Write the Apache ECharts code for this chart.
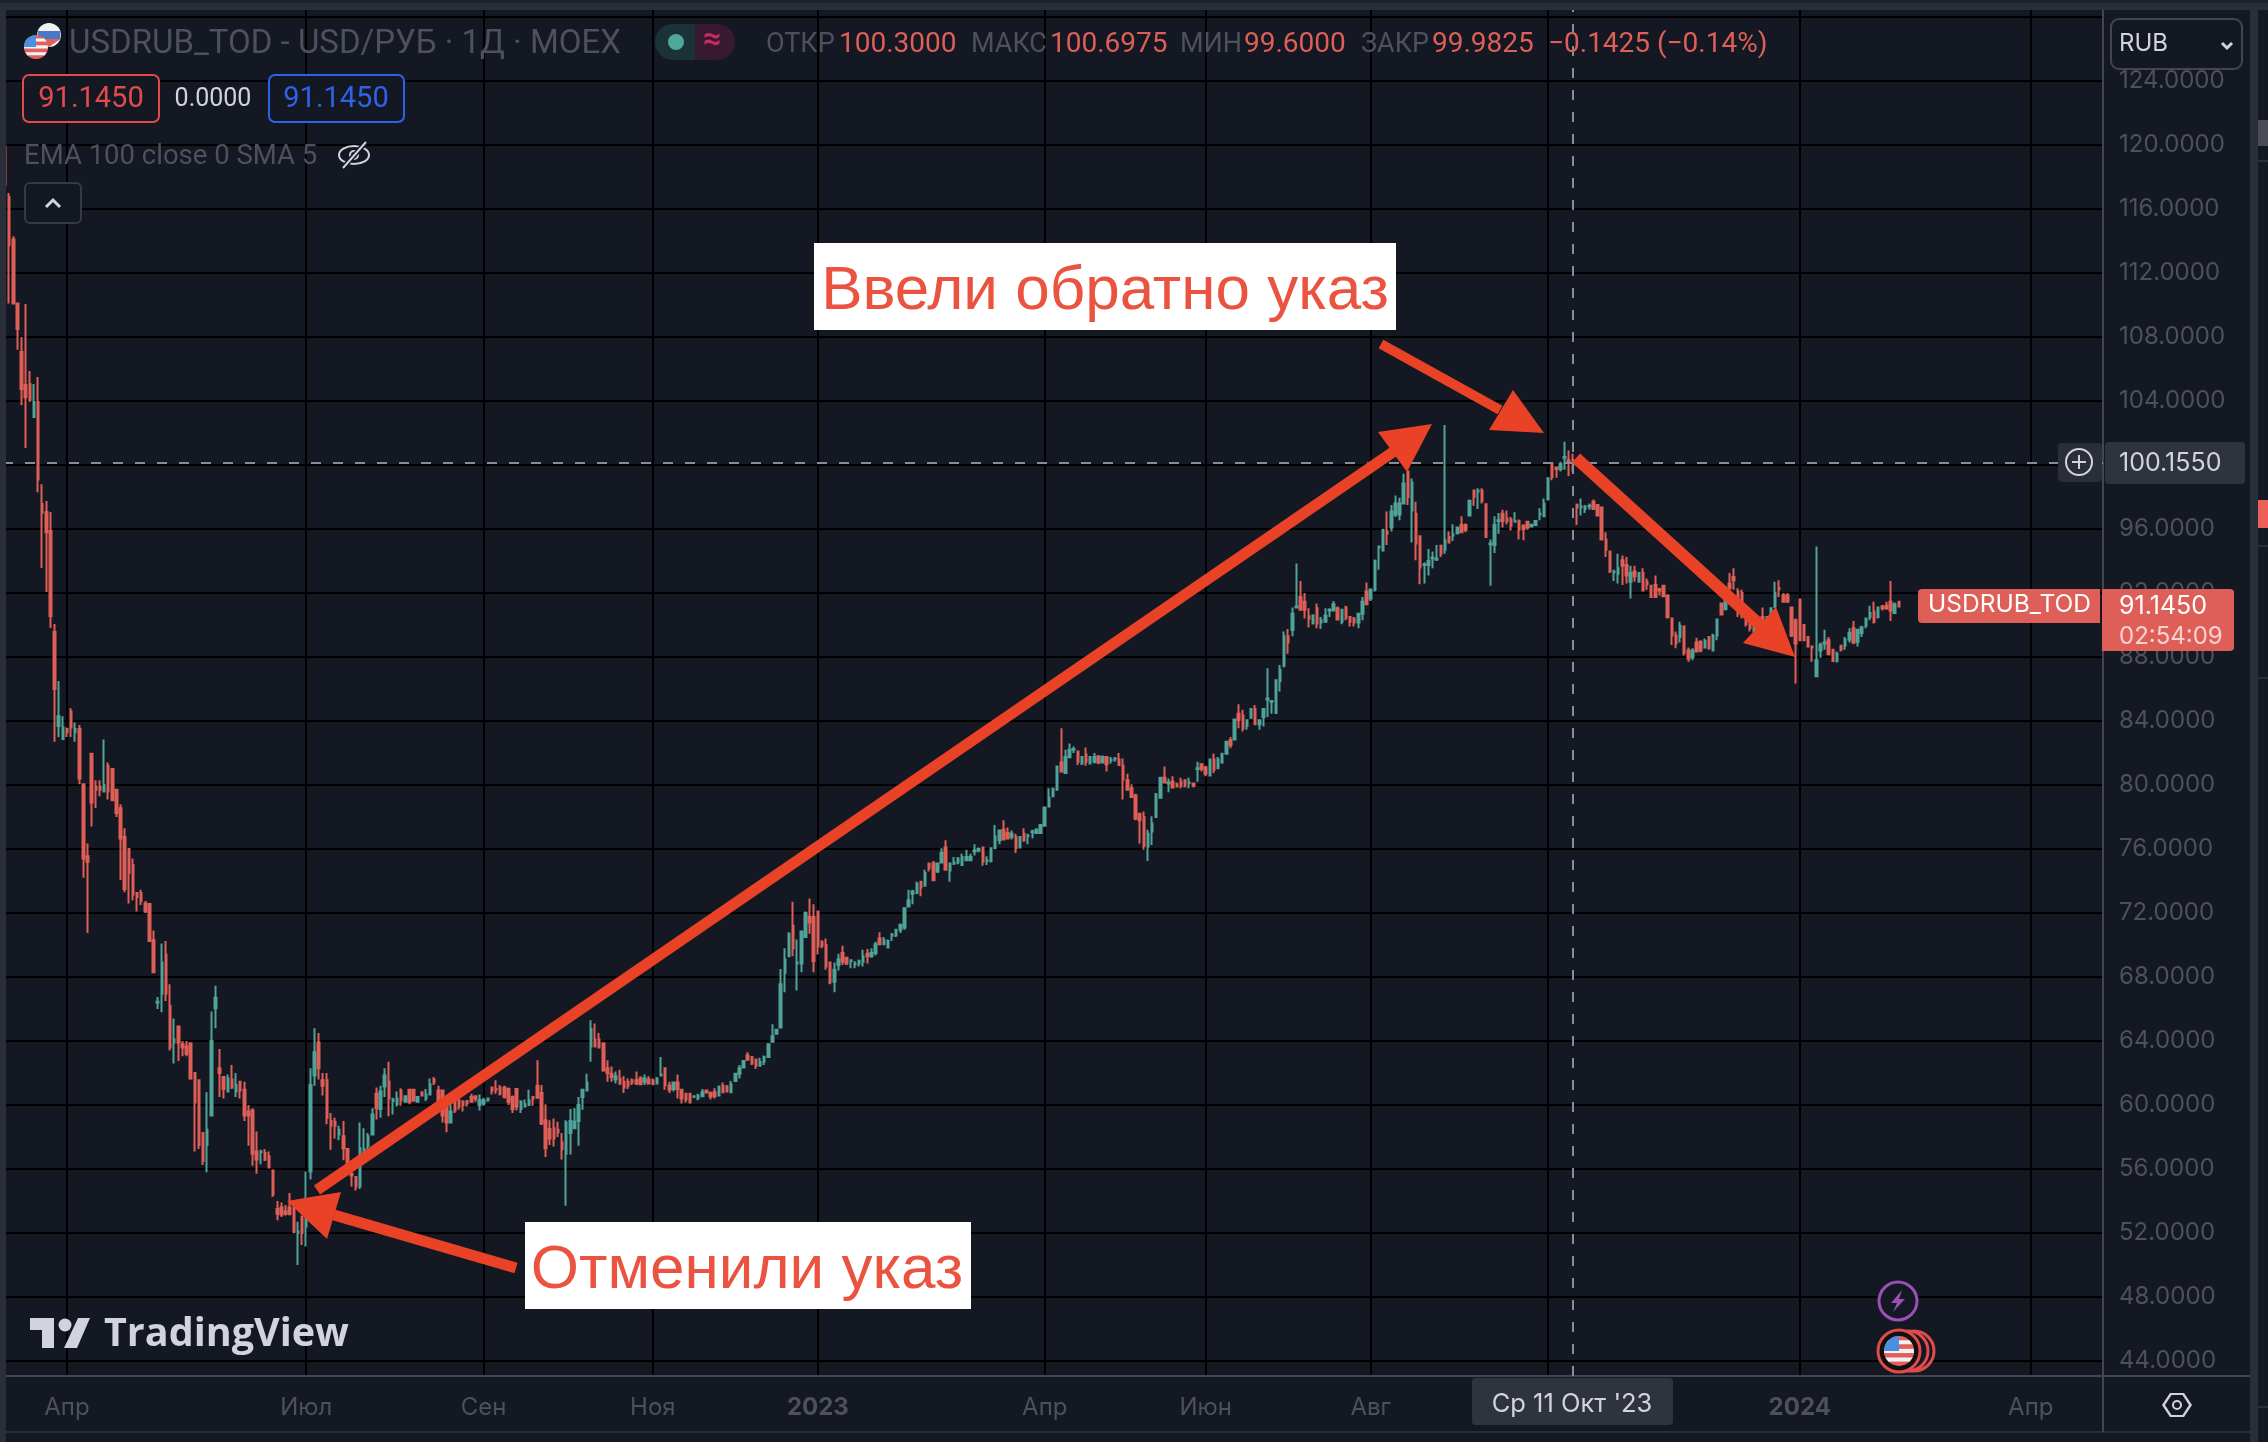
<!DOCTYPE html>
<html>
<head>
<meta charset="utf-8">
<title>USDRUB_TOD</title>
<style>
html, body { margin: 0; padding: 0; background: #141823; }
#main { width: 2268px; height: 1442px; }
</style>
<script src="https://cdn.jsdelivr.net/npm/echarts@6/dist/echarts.min.js"></script>
</head>
<body>
<div id="main"></div>
<script>
const opens = [
119.9,116.75,114.1,110.1,107.06,105,105.06,103,103.94,97.56,
97.06,95.87,89.56,83.68,82.87,83.5,84.6,83.3,83.5,80.05,
75.55,81.96,79.9,79.9,79.6,81.2,81,79.7,78.55,76.75,
76,75,73.25,73.25,72.6,72.56,70.3,66.4,66.95,69.4,
66.2,63.9,64.9,63.8,63.65,63.85,62,61.55,58.25,57.5,
59.35,66.05,62.3,61.75,60.85,61.6,60.85,61.45,60.95,59.6,
59.65,57.1,57.05,57,56.8,55.9,53.5,53.6,53.35,53.6,
53.7,52,53,52.4,55.85,61.85,63.9,61.55,61.55,59,
58.95,58.15,58.05,57.25,55.7,55.5,54.9,57,57.45,58.15,
60.7,59.75,61.15,61.45,60.25,60.05,60.9,60.2,60.95,60.95,
60.2,60.8,60.4,60.65,61.6,60.9,60.9,59.85,58.9,60.2,
60.3,60.2,60.25,60.5,60.55,60,60.1,60.3,61.1,61,
61.1,61.1,61,60.5,61,59.75,59.9,60,60.5,61.2,
60.75,59.05,58.5,58.55,58.45,57.65,56.95,58.25,58.55,59,
60.5,60.9,63.65,64.1,64.1,63.85,62.3,61.95,61.6,61.65,
61.45,61.45,61.55,61.55,61.65,61.45,61.6,61.55,61.35,61.85,
62.3,61.2,61,61.4,60.95,60.7,60.7,60.5,60.4,60.55,
60.9,60.75,60.8,60.6,61.2,61.15,60.8,61.5,61.95,62.35,
63.1,63,62.85,62.45,62.7,63,63.95,64.45,64.85,68.27,
69.3,71.2,68.85,68.85,70.5,71.75,71.75,72.1,70.2,70,
68.9,67.7,68.75,69.5,69.2,69,68.8,68.85,68.95,69.45,
69.3,69.5,70.4,70.05,69.85,70.6,70.6,70.95,71.1,72.4,
73.2,73.25,73.95,73.7,75.1,75.1,74.6,75.15,76.1,74.65,
75.1,75.15,75,75.3,75.3,75.85,75.9,76.1,75.25,75.25,
76.05,76.55,77.2,77,76.75,76.75,76.1,76.95,76.8,77.05,
77,77,77.45,78.65,79.3,79.7,81.4,80.75,81.75,82.2,
82.1,81.35,81.9,81.35,81.45,81.8,81.4,81.75,81.55,81.6,
81.6,81.2,80.3,79.8,79.35,78.2,78,76.15,77.1,78,
79.2,80.45,80.1,80.2,80.05,80.2,80.3,80.1,80.1,81,
81.3,81.1,80.6,81.6,81.05,81.4,81.95,82.8,82.85,84.45,
84.35,83.7,84.2,84.75,83.8,84.25,85.35,85.2,84.5,86.5,
87.45,89.3,89.7,91.1,91.75,91.45,90.55,90.1,91.05,90.15,
90.2,90.9,90.9,91.05,90.2,91.1,90.5,90.4,90.15,90.7,
92.1,91.65,92.2,94.85,94.65,95.85,96.1,96.9,96.9,97.6,
99.6,97.15,96.95,95.55,93.75,93.75,94.15,94.1,94.95,94.7,
95.5,95.6,95.75,96.25,96.25,96.85,98.4,98.35,98.4,97.55,
95.05,95,96.5,96.95,96.65,96.6,96.45,96.5,96.2,96.45,
96.15,96.25,96.9,96.8,97.85,100.1,99.85,99.75,100.45,100.3,
100.3,97.5,97.35,97.25,97.4,97.7,97.5,97.35,95.35,94.6,
93.3,93.2,94.05,93.75,92.7,93.35,92.7,93.25,92.7,92.45,
92.5,92.25,92.45,91.85,90.4,89.35,89.25,89.9,88.4,88,
88.9,88.95,88.6,89.25,88.4,89.35,91.35,91,92.6,93,
92.1,92,90.5,90.1,89.6,90.1,90.5,90.1,90.4,91.15,
92.3,91.85,91.85,91.1,90.3,91.6,90,89.25,88.65,86.8,
88.4,88.85,89.05,88.45,87.75,88.7,88.7,89.1,89.8,88.95,
89.5,89.95,90.5,90.85,90.5,91.15,91.2,91.45,90.75,91.45
];
const closes = [
117.5,113.75,110.1,108.5,104.75,104.25,104.06,103.94,99.1,97,
95.8,90.56,86,84.3,83.6,83.3,83.6,83.5,80.4,75.4,
75.2,78.9,79.7,79.7,80,79.6,79.05,78.25,76.65,73.5,
74.5,73.15,73,72.75,72.1,70.25,68.3,66.45,68.9,66.95,
63.6,64.1,63.9,63.6,63.2,61.65,60.15,57.5,56.5,58.45,
64,66.7,62,61,61.65,61.1,61.25,60.9,59.35,59.35,
56.95,56.6,57.1,56.6,56.1,54.4,53.2,53.15,53.2,53.2,
52.05,52.1,52,53.15,61.25,63.3,62.3,61.2,59.2,58.7,
58.7,58.45,57.3,56.35,55.6,54.9,57.3,57.25,58.05,59.4,
59.8,60.85,61.85,60.4,60.35,60.4,60.3,60.55,60.2,60.3,
60.5,60.6,60.65,61.3,61.4,60.1,59.35,58.9,59.6,59.65,
59.9,60,60.1,60.2,60.4,60.3,60.3,60.4,60.9,60.95,
60.7,60.5,60.2,59.75,59.9,60.2,60.05,60.3,60.4,60.45,
58.85,57.3,57.9,57.9,58.3,57.25,58.9,59,58.95,60,
60.95,61.4,64.75,63.65,63.6,62.15,62,61.75,61.8,61.35,
61.1,61.2,61.4,61.35,61.3,61.65,61.35,61.3,61.65,61.9,
61.25,60.95,61.4,61,60.4,60.35,60.15,60.55,60.6,60.8,
60.8,60.55,60.55,61.15,60.8,60.85,61.3,61.95,62.3,62.75,
62.85,62.6,62.45,62.7,63,63.8,64.3,64.7,67.55,69.1,
70.7,69.8,68.9,70.85,72,71.4,69,69.9,69.95,68.65,
67.65,68.45,69.1,68.95,68.85,69.05,68.85,69,69.3,69.3,
69.5,70.05,70.05,70.3,70.25,70.65,70.95,71.25,72.3,72.8,
73.35,73.85,73.6,74.5,74.8,74.05,75.1,75.75,74.7,75.1,
75.15,75.4,75.5,75.5,75.5,75.9,76,75.2,75.3,76.05,
76.8,77.15,76.6,76.65,76.95,76.05,76.75,76.55,76.85,77.1,
77.2,77.5,78.6,79.2,79.75,81.15,80.85,81.75,82.2,82.25,
81.45,81.75,81.45,81.75,81.75,81.4,81.75,81.3,81.6,81.65,
81.25,80.35,79.7,79.25,77.9,77.8,76.2,76.95,77.6,79.4,
80.45,80.15,80.15,79.85,79.9,79.95,79.95,80.15,79.95,81.05,
81,80.7,81.6,80.95,81.6,81.95,82.7,82.5,84.1,84.05,
83.55,84.05,84.75,83.8,84.05,84.75,85.4,85.25,86.55,87.2,
89.3,88.9,90.7,91.15,90.95,90.95,90.4,90.6,90.1,90.3,
90.6,90.95,91.3,90.35,90.95,90.45,90.2,90.15,90.7,91.45,
91.3,92.2,94,94.9,95.95,95.7,97.1,97.6,97.6,98.85,
98,98.9,95.1,93.6,93.8,94,94.2,94.15,94.45,95.3,
95.15,95.65,96.1,95.8,95.95,97.75,98,98.4,97.75,95.5,
95.1,96.25,96.55,96.5,96.5,96.2,96.5,95.95,96,96.1,
96.25,96.5,96.95,97.6,99.15,99.25,99.75,100.05,100.5,100.2,
99.98,97.35,97.4,97.4,97.45,97.25,96.85,95.35,94.7,93.35,
93.35,93.55,93.7,93.1,93.25,93.05,93.25,92.15,92.55,91.75,
91.75,92.15,91.8,90.5,89.35,88.85,89.95,88.25,87.9,88.4,
88.35,88.4,89,88.55,89.35,90.35,90.65,91.6,92.3,92.8,
91.35,91.15,90.05,89.8,89.9,89.8,90,90.5,91.05,92,
92.25,91.45,91.45,89.35,88.85,89.05,89.05,88.65,88.6,87.8,
88.75,88.9,88.2,87.75,88.2,88.45,89.1,89.5,88.9,89.7,
89.85,90.4,90.75,90.2,91.1,91.05,91.05,90.9,91.3,91.15
];
const lows = [
117.4,110.1,110.1,107.2,103.75,101.06,103.94,103,98.3,93.56,
92.06,89.81,82.7,83,82.87,83,83,82.7,80.05,74.2,
70.75,77.4,78.56,79.3,79.6,79.1,79,78,74.07,73.3,
72.6,72.8,72.1,72.5,72,70.2,68.3,66,65.8,66.5,
63.4,62.6,62.75,63.05,63.05,61.65,57.1,57.25,56.25,55.8,
59.35,64.8,60.5,60.4,60.85,61,60.5,60.4,59,57.45,
56.2,55.7,56.3,56.5,56.1,54.25,52.8,53,53.1,53.1,
52.05,50,51.25,51.15,55.35,61.2,61.6,60.6,58.8,57.2,
57.9,57.8,56.55,55.75,54.9,54.65,54.75,56.85,57.2,58.1,
59.1,59.2,60.5,59.3,59.4,59.9,59.95,60.15,60.05,60.2,
60.15,60.55,60.25,60.6,61.25,60,58.9,58.3,58.9,59.5,
59.7,59.6,59.9,60.2,60.2,59.65,59.95,60.2,60.65,60.7,
60.6,60.4,60,59.5,59.65,59.5,59.85,59.95,59.95,60.4,
58.75,56.75,57.5,57.4,58,56.6,53.7,56.9,58.55,57.45,
59.7,60.9,62.7,63.6,63.55,62.15,61.45,61.45,61.35,61.25,
60.75,61,61.25,61.25,61.25,61.25,61.3,61.25,61.3,61.85,
60.95,60.75,60.85,60.4,60.1,60.15,60.1,60.45,60.3,60.5,
60.7,60.35,60.4,60.55,60.8,60.8,60.8,61.45,61.65,62.35,
62.75,62.5,62.25,62.4,62.5,63,63.9,64.4,64.85,67.05,
69.25,69.3,67.15,68.3,70.5,70.7,68.3,69.4,69.8,68.45,
67.55,67.05,68.4,68.75,68.75,68.55,68.55,68.65,68.65,68.85,
69.2,69.35,70,70,69.85,70.25,70.5,70.75,70.95,72.4,
72.55,73.2,73.05,73.7,74.6,74,74.5,75.1,74.65,73.95,
75,75.05,75,75.25,75.3,75.6,75.8,74.95,75,75.15,
76,76.3,76.55,76.6,76.6,75.75,76.05,76.45,76.3,76.65,
77,77,77.45,78.65,79.3,79.7,80.85,80.7,81.65,82,
81.25,81.25,81.2,81.3,81.35,81.3,81.35,80.85,81.35,81.45,
81.2,79.1,79.65,79.25,77.8,76.35,75.95,75.25,76.25,78,
79.2,80.15,79.55,79.8,79.85,79.8,79.85,79.8,79.85,80.2,
80.85,80.55,80.55,80.75,81,81.4,81.9,82.3,82.8,83.55,
83.35,83.45,84.2,83.8,83.45,83.65,84.25,84.45,84.5,85.85,
87.35,88.2,89.3,91.05,90.95,90.4,89.85,90.1,89.8,89.75,
90.2,90.5,90.9,90.3,90.05,90.3,89.9,89.9,89.8,90.3,
91.3,91.5,92.1,93.45,94.65,95,95.85,96.75,96.55,97.55,
97.5,95.15,94.05,92.55,92.6,93.1,93.55,94,94.25,94.45,
95.1,95.25,95.65,95.75,95.8,96.85,97.45,97.25,97.6,95.5,
92.45,94.5,95.7,96.1,96.3,95.9,96.4,95.35,95.3,95.95,
96.1,96.25,96.55,96.8,97.85,99.05,99.2,99.6,99.7,99.3,
99.6,96.25,96.85,97,97.2,97.2,96.8,95.3,94.25,93.25,
92.75,92.6,92.5,92.6,91.65,92.7,92.7,92.15,92.2,91.75,
91.75,91.85,91.75,90.4,88.75,88.55,88.9,88.1,87.7,87.8,
88.3,88.3,88.55,88.45,88.35,89.05,90.6,90.9,92.2,92.2,
90.5,90.4,89.9,89.6,89.5,89.5,89.7,89.8,90.3,91.05,
91.75,91.4,91.4,89.25,86.35,89,89,88.65,87.7,86.75,
87.95,88.45,88.1,87.75,87.65,88.35,88.45,88.9,88.8,88.65,
89.25,89.8,90.3,90.1,90.4,90.9,90.95,90.25,90.75,91.1
];
const highs = [
119.9,117,114.3,110.1,108,110.06,105.87,105.06,105.5,98.8,
97.75,97.06,90.06,86.5,84.3,83.6,84.8,83.9,83.75,80.05,
76.35,81.96,80.3,80.3,82.85,81.4,81.05,79.75,78.8,77.3,
76,75.4,73.3,73.45,72.75,72.56,70.9,66.75,70.1,70.25,
67.55,65.4,64.9,64,64,63.85,62,61.55,58.25,60.8,
65.85,67.45,63.5,61.75,61.9,62.5,62,61.5,61.45,60,
59.8,58.35,57.2,57.25,57.1,55.9,54,53.9,53.75,54.5,
53.9,52.7,53.1,55.85,62.3,64.8,64.5,62,62,59.5,
59.2,58.7,59,57.25,55.8,55.5,58.9,58.55,58.25,59.8,
61.1,61.2,62.3,62.7,60.45,60.85,61.05,60.6,61,61,
60.55,60.8,61,61.65,61.75,61.2,60.9,60,60.1,60.3,
60.45,60.3,60.3,60.7,60.55,60.65,60.45,60.45,61.15,61.55,
61.25,61.2,61.1,60.6,61,60.3,60.35,60.95,60.5,62.8,
61.25,60.05,59.05,59.15,58.95,58.25,59.05,59.75,59.8,60.5,
61,61.95,65.3,65.1,64.5,63.85,62.8,62.4,62.1,62.2,
61.8,61.65,61.65,62.1,61.8,61.9,61.8,61.65,61.75,63,
62.3,61.45,61.45,61.9,60.95,60.7,60.7,60.6,60.7,61,
60.95,60.85,61.05,61.2,61.4,61.25,61.5,62,62.5,62.8,
63.3,63,62.85,62.95,63.1,63.85,65.05,64.75,68.5,69.8,
70.8,72.7,70.35,70.85,72.1,72.9,72.55,72.1,70.3,70.4,
68.9,68.9,69.45,69.95,69.25,69.05,69,69.1,69.7,69.75,
69.8,70.2,70.8,70.5,70.35,70.75,71,71.35,72.3,73.45,
73.45,73.95,73.95,74.7,75.1,75.25,75.15,76.05,76.55,75.1,
75.5,75.5,75.7,75.95,75.7,76.3,76.1,76.1,75.55,76.1,
77.5,77.2,77.8,77.35,77.15,76.95,76.8,77.3,76.95,77.2,
77.3,77.55,78.65,79.8,79.85,81.2,83.55,82.2,82.6,82.4,
82.1,81.8,82.35,81.8,82,81.85,81.85,81.8,81.75,81.75,
82,81.65,80.7,80.05,79.45,78.25,78.35,77.2,78.05,79.5,
80.45,81.15,80.4,80.55,80.15,80.45,80.35,80.45,80.15,81.45,
81.3,81.2,81.6,81.95,81.75,81.95,82.75,83,84.15,85.05,
84.7,84.05,84.75,85,84.1,84.8,87.3,85.25,86.55,87.5,
89.6,89.75,91.1,93.85,92.75,92,91.05,90.6,91.35,90.5,
91.05,91.05,91.5,91.15,91,91.2,90.5,90.5,90.7,91.75,
92.65,92.3,94.1,94.95,95.95,97.1,97.5,98.1,97.95,99.45,
99.65,99.15,97.7,95.55,93.9,94.75,94.6,95,95,102.5,
95.85,96.3,96.15,96.8,96.35,97.85,98.45,98.55,98.55,97.55,
95.35,96.8,97,97.2,97.15,96.75,97.05,96.6,96.3,96.5,
96.35,96.55,97.3,97.9,99.25,100.15,99.9,100.2,101.45,100.9,
100.7,97.6,97.9,97.5,97.6,97.85,97.55,97.35,95.8,94.6,
93.45,94.45,94.35,94.25,93.7,93.7,93.3,93.55,92.9,92.5,
93.1,92.3,92.5,91.85,90.45,89.6,90.2,89.9,88.6,88.55,
89.2,89.05,89.15,89.3,89.45,90.35,91.35,91.65,93.25,93.55,
92.3,92.2,90.5,90.2,89.95,90.3,91.1,90.5,91.05,92.7,
92.8,92,92,91.1,90.4,91.6,90.05,89.25,88.65,94.9,
88.9,89.7,89.25,88.5,88.35,88.75,89.25,89.8,90.25,89.7,
89.95,90.45,91.2,91.45,91.1,91.25,91.45,92.75,91.4,91.5
];
const tickBars = [15, 73, 116, 157, 197, 252, 291, 331, 374, 435, 491];
const tickLabels = ['Апр', 'Июл', 'Сен', 'Ноя', '2023', 'Апр', 'Июн', 'Авг', 'Окт', '2024', 'Апр'];
const priceTicks = [44, 48, 52, 56, 60, 64, 68, 72, 76, 80, 84, 88, 92, 96, 100, 104, 108, 112, 116, 120, 124, 128];
const barCount = 509;
const crossBar = 380;
const crossPrice = 100.155;

const upColor = '#4fa398', downColor = '#de5f57';
const bgColor = '#141823', pageColor = '#2a2e39', lineColor = '#434651';
const mutedText = '#4e515c', lightText = '#d1d4dc', arrowColor = '#ea4226', noteColor = '#ea5340';

const categories = [];
for (let i = 0; i < barCount; i++) {
    const pos = tickBars.indexOf(i);
    categories.push(pos >= 0 ? tickLabels[pos] : '');
}
const candles = opens.map((o, i) => [o, closes[i], lows[i], highs[i]]);

function box(x, y, w, h, fill, stroke, r, lw, z) {
    return { type: 'rect', silent: true, z: z || 100, shape: { x: x, y: y, width: w, height: h, r: r || 0 },
        style: { fill: fill || 'none', stroke: stroke || 'none', lineWidth: lw || 0 } };
}
function label(text, x, y, color, font, align, z) {
    return { type: 'text', silent: true, z: z || 110,
        style: { text: text, x: x, y: y, fill: color, font: font, textAlign: align || 'left', textVerticalAlign: 'middle' } };
}
function segment(x1, y1, x2, y2, color, lw, z) {
    return { type: 'line', silent: true, z: z || 105, shape: { x1: x1, y1: y1, x2: x2, y2: y2 }, style: { stroke: color, lineWidth: lw } };
}
function poly(points, color, z) {
    return { type: 'polygon', silent: true, z: z || 105, shape: { points: points }, style: { fill: color } };
}
function ring(cx, cy, r, fill, stroke, lw, z) {
    return { type: 'circle', silent: true, z: z || 105, shape: { cx: cx, cy: cy, r: r }, style: { fill: fill || 'none', stroke: stroke || 'none', lineWidth: lw || 0 } };
}
// round flags are built from chords so that no clipping is needed
function stripes(cx, cy, r, colors, z) {
    const out = [ring(cx, cy, r, colors[0], null, 0, z)];
    const h = 2 * r / colors.length;
    colors.forEach((c, k) => {
        const top = -r + k * h, bot = top + h;
        const wt = Math.sqrt(Math.max(0, r * r - top * top)), wb = Math.sqrt(Math.max(0, r * r - bot * bot));
        out.push(poly([[cx - wt, cy + top], [cx + wt, cy + top], [cx + wb, cy + bot], [cx - wb, cy + bot]], c, z));
    });
    return out;
}
function usFlag(cx, cy, r, z) {
    const red = '#e2605b', white = '#f2f2f2';
    const out = stripes(cx, cy, r, [red, white, red, white, red, white, red], z);
    out.push({ type: 'sector', silent: true, z: z, shape: { cx: cx, cy: cy, r: r, r0: 0, startAngle: Math.PI, endAngle: Math.PI * 1.5 }, style: { fill: '#4a90e2' } });
    return out;
}

const elements = [
    // page frame around the chart panel
    box(0, 0, 2268, 3, '#1e222d'),
    box(0, 3, 2268, 7, pageColor),
    box(0, 3, 6, 1439, pageColor),
    box(2250, 3, 8, 1439, pageColor),
    box(2258, 10, 10, 1432, bgColor),
    box(2258, 120, 10, 26, '#4a4d57', null, 0, 0, 101),
    box(2258, 160, 10, 2, pageColor, null, 0, 0, 101),
    box(2258, 500, 10, 28, '#ec5f58', null, 0, 0, 101),
    box(2258, 545, 10, 2, pageColor, null, 0, 0, 101),
    box(2258, 677, 10, 2, pageColor, null, 0, 0, 101),
    box(2258, 1406, 10, 2, pageColor, null, 0, 0, 101),
    box(6, 1433, 2244, 9, bgColor),
    segment(6, 1432, 2250, 1432, pageColor, 2),
    segment(2102, 1376, 2250, 1376, lineColor, 2),
    segment(2103, 1376, 2103, 1432, lineColor, 2),

    // legend rows
    ...stripes(49, 35, 12, ['#f2f2f2', '#4a78c8', '#e2605b'], 106),
    ...usFlag(36, 47, 12, 107),
    label('USDRUB_TOD - USD/РУБ · 1Д · MOEX', 69, 45, mutedText, '33px Roboto'),
    box(655, 24, 40, 36, '#1b3236', null, [18, 0, 0, 18], 0, 101),
    box(695, 24, 40, 36, '#371a30', null, [0, 18, 18, 0], 0, 101),
    ring(676, 42, 8, '#4fa898', null, 0, 106),
    label('≈', 712, 41, '#c92a5f', 'bold 32px Roboto', 'center'),
    label('ОТКР', 766, 45, mutedText, '27px Roboto'),
    label('100.3000', 839, 45, downColor, '28px Roboto'),
    label('МАКС', 971, 45, mutedText, '27px Roboto'),
    label('100.6975', 1050, 45, downColor, '28px Roboto'),
    label('МИН', 1180, 45, mutedText, '27px Roboto'),
    label('99.6000', 1244, 45, downColor, '28px Roboto'),
    label('ЗАКР', 1361, 45, mutedText, '27px Roboto'),
    label('99.9825', 1432, 45, downColor, '28px Roboto'),
    label('−0.1425 (−0.14%)', 1548, 45, downColor, '28px Roboto'),
    box(23, 75, 136, 47, bgColor, '#e04b4b', 6, 2, 102),
    label('91.1450', 91, 100, '#e04b4b', '29px Roboto', 'center'),
    label('0.0000', 213, 100, lightText, '25px Roboto', 'center'),
    box(269, 75, 135, 47, bgColor, '#2e62e8', 6, 2, 102),
    label('91.1450', 336, 100, '#2e62e8', '29px Roboto', 'center'),
    label('EMA 100 close 0 SMA 5', 24, 157, mutedText, '27.5px Roboto'),
    { type: 'ellipse', silent: true, z: 106, shape: { cx: 354, cy: 155, rx: 15, ry: 9 }, style: { fill: 'none', stroke: lightText, lineWidth: 2 } },
    ring(354, 155, 4, 'none', lightText, 2, 106),
    segment(343, 168, 366, 142, bgColor, 5, 107),
    segment(343, 168, 366, 142, lightText, 2, 108),
    box(25, 183, 56, 40, bgColor, '#363a45', 5, 2, 102),
    { type: 'polyline', silent: true, z: 106, shape: { points: [[46, 207], [53, 200], [60, 207]] }, style: { fill: 'none', stroke: lightText, lineWidth: 3 } },

    // currency box at the top of the price scale
    box(2105, 10, 145, 60, bgColor),
    box(2111, 19, 131, 50, bgColor, lineColor, 8, 2, 102),
    label('RUB', 2119, 44, lightText, '24px Inter'),
    { type: 'polyline', silent: true, z: 106, shape: { points: [[2222, 43], [2227, 48], [2232, 43]] }, style: { fill: 'none', stroke: lightText, lineWidth: 3 } },

    // crosshair labels
    box(2058, 443, 44, 39, pageColor, null, 4, 0, 102),
    ring(2079, 462, 13, 'none', lightText, 2, 106),
    segment(2072, 462, 2086, 462, lightText, 2, 107),
    segment(2079, 455, 2079, 469, lightText, 2, 107),
    box(2105, 442, 140, 42, '#2f333e', null, 4, 0, 102),
    label('100.1550', 2119, 463, lightText, '25px Inter'),
    box(1472, 1378, 201, 47, '#2f333e', null, 4, 0, 102),
    label('Ср 11 Окт \'23', 1572, 1404, lightText, '25.5px Inter', 'center'),

    // last price labels
    box(1918, 589, 182, 34, downColor, null, [4, 0, 0, 4], 0, 102),
    label('USDRUB_TOD', 1928, 605, '#ffffff', '24.5px Inter'),
    box(2102, 589, 132, 62, downColor, null, [0, 4, 4, 0], 0, 102),
    label('91.1450', 2119, 606, '#ffffff', '25px Inter'),
    label('02:54:09', 2119, 637, 'rgba(255,255,255,0.72)', '24px Inter'),

    // watermark
    poly([[30, 1318], [54, 1318], [54, 1348], [42, 1348], [42, 1330], [30, 1330]], lightText),
    ring(65, 1325, 6.5, lightText),
    poly([[78, 1318], [90, 1318], [77, 1348], [64, 1348]], lightText),
    label('TradingView', 104, 1335, lightText, '700 39.5px "Open Sans"'),

    // event marks
    ring(1898, 1301, 19, bgColor, '#9c4fb5', 3),
    poly([[1902, 1290], [1891, 1303], [1897, 1303], [1893, 1312], [1905, 1299], [1899, 1299]], '#9c4fb5', 106),
    ring(1914, 1351, 20, bgColor, '#e04b4b', 3, 103),
    ring(1908, 1351, 20, bgColor, '#e04b4b', 3, 104),
    ring(1899, 1351, 21, '#111111', '#e04b4b', 3, 105),
    ...usFlag(1899, 1351, 15, 106),

    // settings button
    poly([[2162, 1405], [2170, 1393], [2184, 1393], [2192, 1405], [2184, 1417], [2170, 1417]], lightText, 106),
    poly([[2165, 1405], [2171.5, 1395], [2182.5, 1395], [2189, 1405], [2182.5, 1415], [2171.5, 1415]], bgColor, 107),
    ring(2177, 1405, 4, 'none', lightText, 2, 108),

    // annotations
    segment(317, 1190, 1393, 452, arrowColor, 11, 120),
    poly([[1432, 424], [1378, 432], [1407, 472]], arrowColor, 120),
    segment(516, 1268, 334, 1215, arrowColor, 11, 120),
    poly([[287, 1201], [341, 1192], [327, 1239]], arrowColor, 120),
    segment(1381, 344, 1500, 410, arrowColor, 10, 120),
    poly([[1544, 433], [1489, 430], [1513, 390]], arrowColor, 120),
    segment(1576, 458, 1760, 625, arrowColor, 12, 120),
    poly([[1795, 657], [1743, 643], [1776, 607]], arrowColor, 120),
    box(814, 243, 582, 87, '#ffffff', null, 0, 0, 121),
    label('Ввели обратно указ', 1105, 292, noteColor, '62px "Liberation Sans"', 'center', 122),
    box(525, 1222, 446, 87, '#ffffff', null, 0, 0, 121),
    label('Отменили указ', 747, 1271, noteColor, '62px "Liberation Sans"', 'center', 122)
];

const chart = echarts.init(document.getElementById('main'));
chart.setOption({
    animation: false,
    backgroundColor: bgColor,
    grid: { left: 3, top: 10, width: 2100, bottom: 66 },
    xAxis: {
        type: 'category',
        data: categories,
        axisLine: { lineStyle: { color: lineColor, width: 2 } },
        axisTick: { show: false, alignWithLabel: true, interval: (i, v) => v !== '' },
        splitLine: { show: true, alignWithLabel: true, interval: (i, v) => v !== '', lineStyle: { color: '#000000', width: 2 } },
        axisLabel: {
            interval: (i, v) => v !== '',
            color: mutedText,
            fontFamily: 'Inter',
            fontSize: 24,
            margin: 20,
            formatter: v => /^\d/.test(v) ? '{year|' + v + '}' : v,
            rich: { year: { color: mutedText, fontFamily: 'Inter', fontSize: 24, fontWeight: 'bold' } }
        }
    },
    yAxis: {
        type: 'value',
        position: 'right',
        min: 43.0625,
        max: 128.4375,
        axisLine: { show: true, lineStyle: { color: lineColor, width: 2 } },
        axisTick: { show: false, customValues: priceTicks },
        splitLine: { show: true, lineStyle: { color: '#000000', width: 2 } },
        axisLabel: {
            customValues: priceTicks,
            color: mutedText,
            fontFamily: 'Inter',
            fontSize: 24,
            margin: 16,
            formatter: v => v.toFixed(4)
        }
    },
    series: [{
        type: 'candlestick',
        name: 'USDRUB_TOD',
        data: candles,
        barWidth: 2,
        itemStyle: { color: upColor, color0: downColor, borderColor: upColor, borderColor0: downColor, borderWidth: 2 },
        markLine: {
            silent: true,
            symbol: 'none',
            animation: false,
            label: { show: false },
            lineStyle: { color: '#868c98', type: [10, 12], width: 2 },
            data: [{ xAxis: crossBar }, { yAxis: crossPrice }]
        }
    }],
    graphic: { elements: elements }
});
</script>
</body>
</html>
